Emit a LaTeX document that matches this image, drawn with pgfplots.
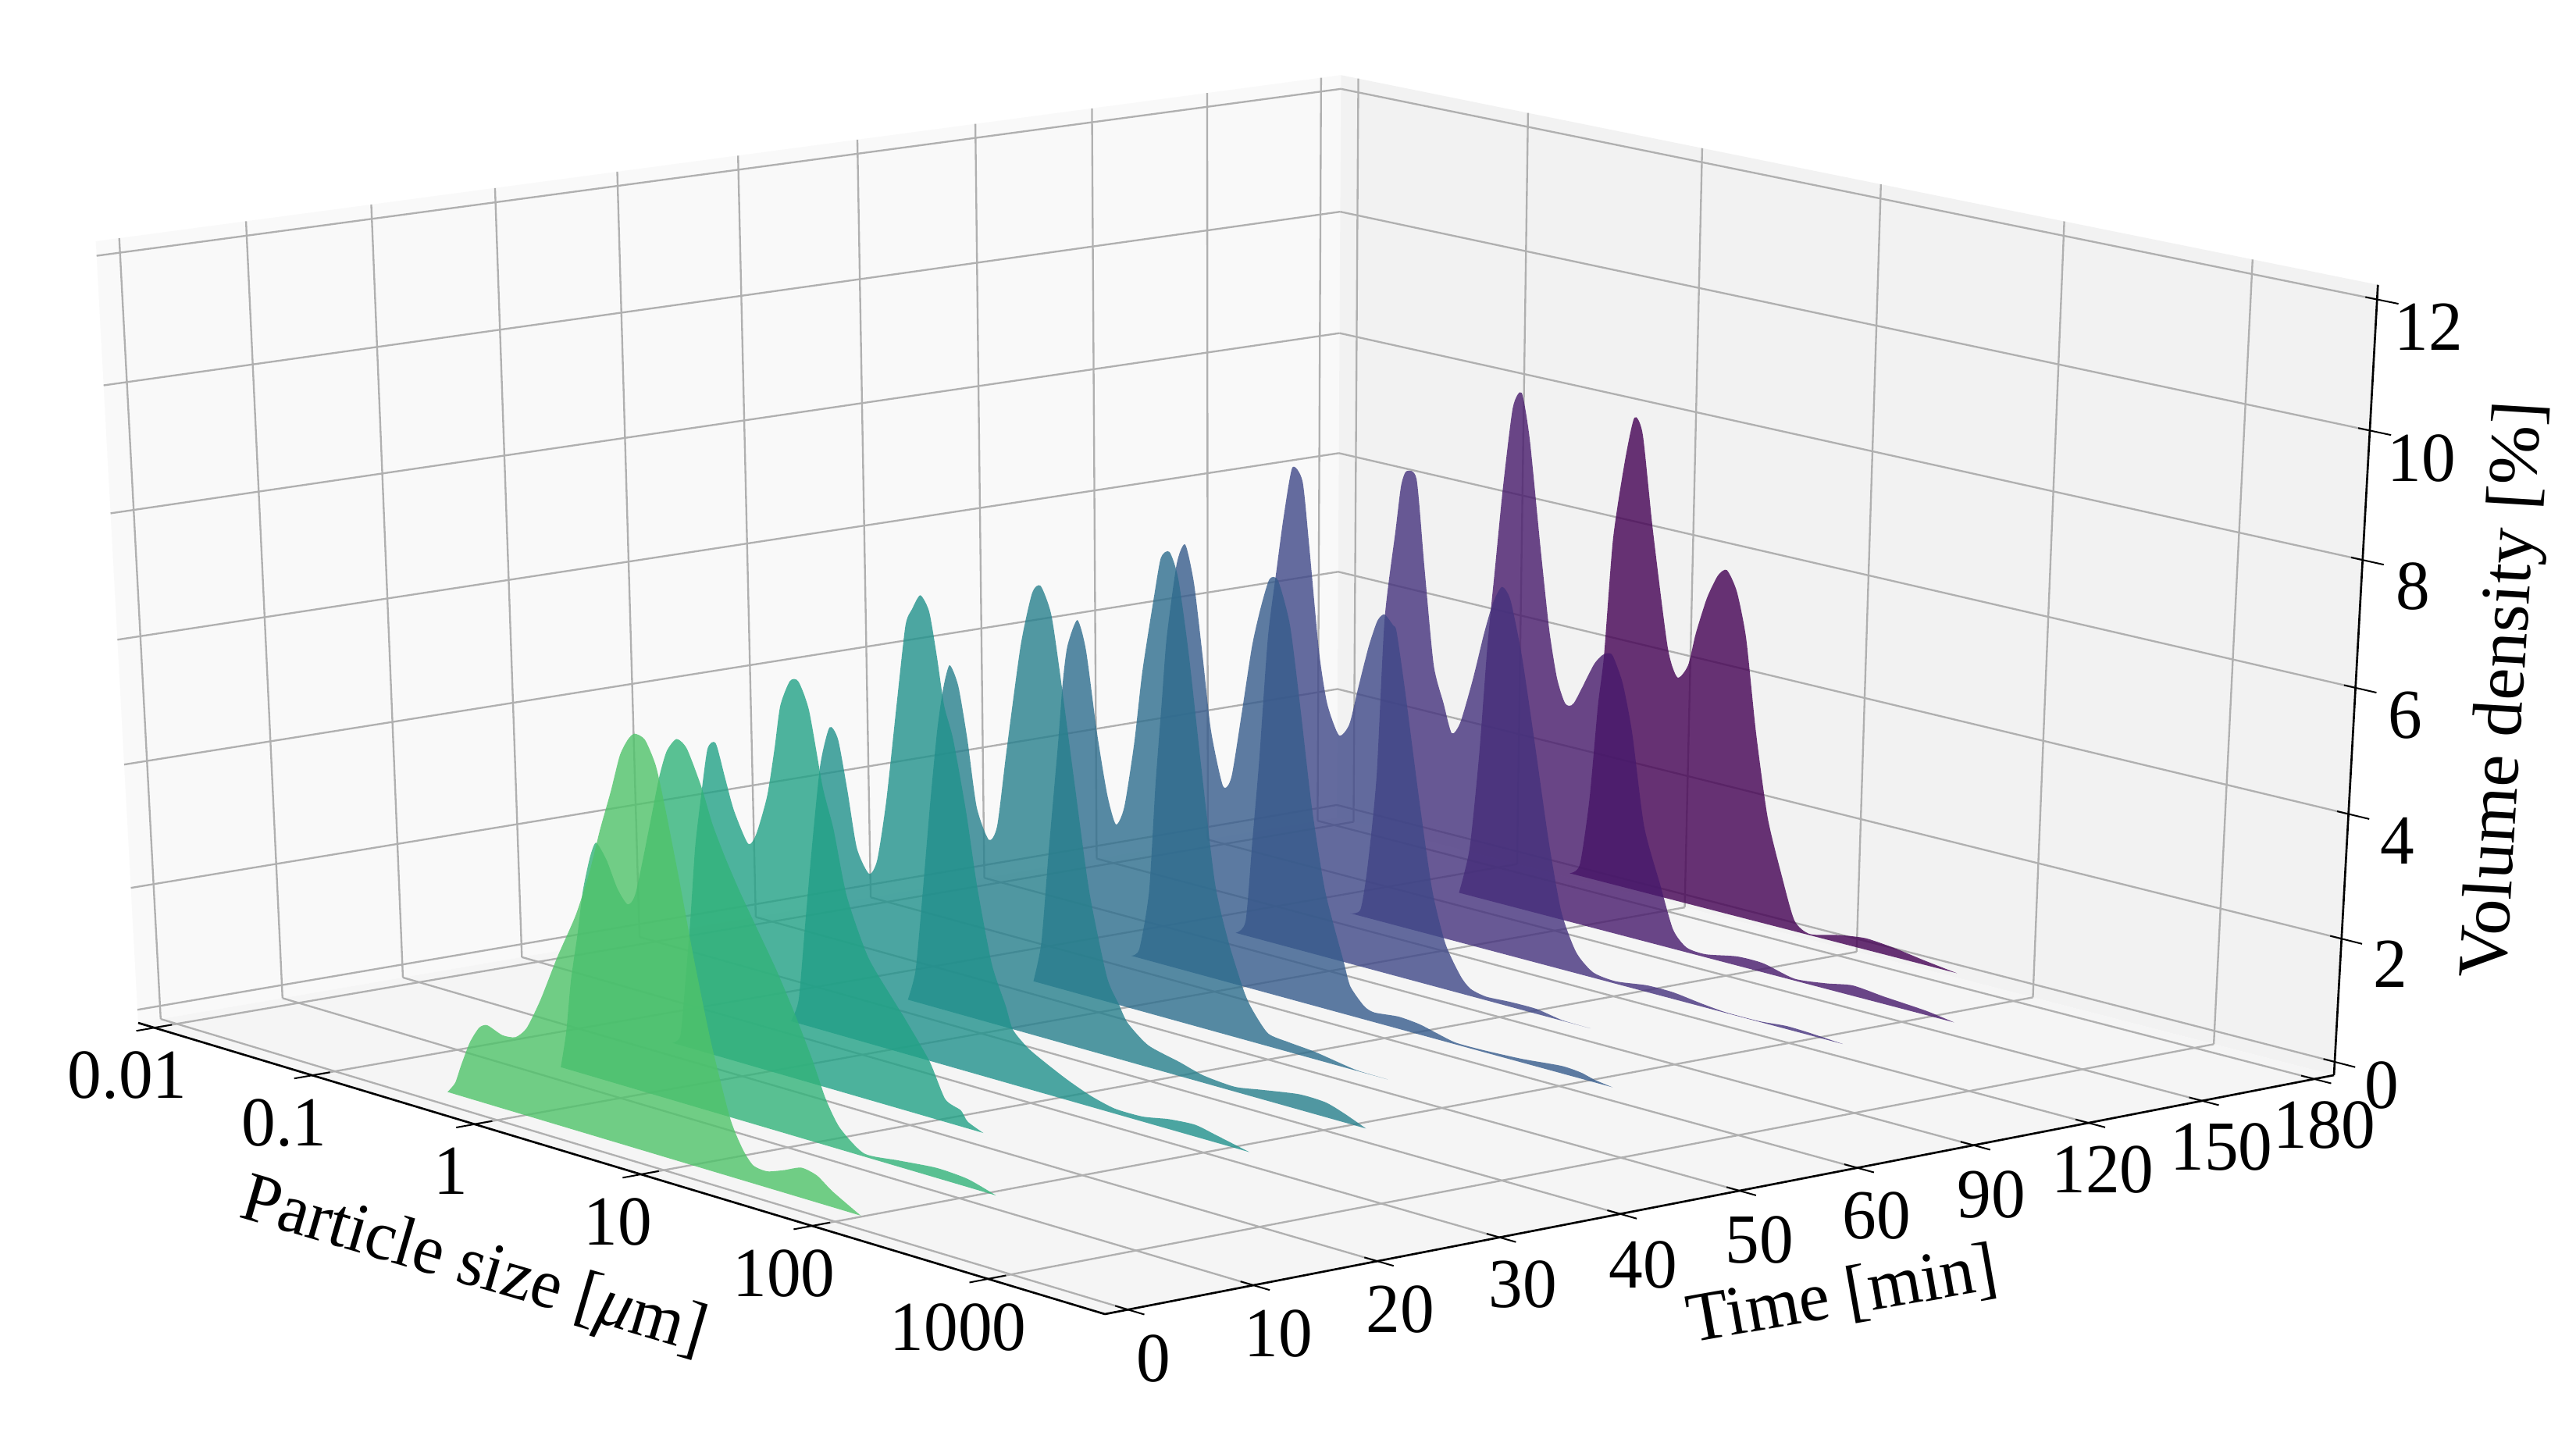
\documentclass[border=0pt]{standalone}
\usepackage{pgfplots}
\usepackage{pgfplotstable}
\usepackage{graphicx}
\usepackage{fontspec}
\setmainfont{Liberation Serif}
\pgfplotsset{compat=1.18}

% log10 of particle size [um], volume density [%]
\pgfplotstableread{
logd vol
-0.30 0
-0.25 0.19
-0.21 0.50
-0.15 0.92
-0.09 1.20
-0.04 1.28
0.05 1.19
0.13 1.22
0.20 1.42
0.29 1.94
0.40 2.70
0.52 3.46
0.61 4.20
0.68 4.91
0.75 5.55
0.81 6.15
0.86 6.43
0.90 6.55
0.96 6.50
1.02 6.14
1.07 5.49
1.14 4.44
1.21 3.32
1.30 2.05
1.40 0.94
1.47 0.50
1.53 0.29
1.61 0.26
1.71 0.36
1.81 0.48
1.90 0.43
1.99 0.25
2.15 0
}\tzero
\pgfplotstableread{
logd vol
-0.36 0
-0.32 0.59
-0.28 1.47
-0.23 2.26
-0.19 2.97
-0.14 3.55
-0.10 3.81
-0.04 3.58
0.02 3.17
0.08 2.96
0.13 3.18
0.22 4.25
0.29 5.12
0.34 5.57
0.40 5.80
0.46 5.69
0.54 5.15
0.60 4.61
0.67 4.14
0.75 3.67
0.86 3.09
0.96 2.56
1.06 1.96
1.16 1.29
1.23 0.75
1.31 0.35
1.45 0.05
1.65 0.10
1.87 0.16
2.05 0.13
2.21 0
}\tten
\pgfplotstableread{
logd vol
-0.42 0
-0.37 0.16
-0.33 1.08
-0.29 2.11
-0.25 3.29
-0.21 4.07
-0.16 4.93
-0.11 5.06
-0.06 4.56
-0.01 4.06
0.07 3.59
0.12 3.78
0.19 4.43
0.24 5.21
0.28 5.92
0.34 6.35
0.39 6.38
0.45 5.96
0.52 4.82
0.58 4.19
0.65 3.19
0.77 2.30
0.93 1.67
0.98 1.48
1.12 0.91
1.21 0.37
1.30 0.26
1.34 0.11
1.43 0
}\ttwenty
\pgfplotstableread{
logd vol
-0.43 0
-0.38 0.39
-0.33 1.67
-0.28 2.94
-0.22 4.31
-0.16 4.96
-0.11 4.80
-0.06 4.01
-0.01 3.13
0.06 2.77
0.11 3.03
0.17 4.02
0.24 5.57
0.30 6.88
0.34 7.17
0.39 7.42
0.44 7.20
0.48 6.55
0.52 5.78
0.57 5.28
0.64 4.19
0.70 3.03
0.78 1.86
0.86 1.24
0.90 0.89
1.00 0.64
1.20 0.35
1.35 0.18
1.49 0.08
1.65 0.08
1.80 0.16
1.95 0.19
2.07 0.12
2.26 0
}\tthirty
\pgfplotstableread{
logd vol
-0.44 0
-0.39 0.53
-0.34 1.86
-0.29 3.27
-0.24 4.53
-0.20 5.24
-0.16 5.64
-0.11 5.34
-0.06 4.52
-0.01 3.47
0.06 2.99
0.11 3.25
0.17 4.49
0.26 6.23
0.33 7.11
0.38 7.26
0.44 6.85
0.49 5.92
0.57 4.23
0.65 2.59
0.75 1.29
0.82 0.89
0.87 0.63
0.99 0.36
1.17 0.23
1.31 0.12
1.49 0.08
1.64 0.15
1.86 0.25
2.01 0.24
2.12 0.14
2.24 0
}\tforty
\pgfplotstableread{
logd vol
-0.39 0
-0.34 0.68
-0.29 2.25
-0.23 4.02
-0.20 5.00
-0.17 5.63
-0.11 6.09
-0.06 5.64
0.00 4.38
0.06 3.40
0.11 2.95
0.16 3.27
0.22 4.34
0.27 5.53
0.34 6.78
0.38 7.41
0.43 7.53
0.48 7.14
0.54 5.98
0.61 4.27
0.69 2.42
0.77 1.52
0.86 0.79
0.91 0.52
1.00 0.21
1.12 0.16
1.27 0.12
1.42 0.05
1.52 0.01
1.69 0
}\tfifty
\pgfplotstableread{
logd vol
-0.50 0
-0.45 0.15
-0.39 1.15
-0.35 2.92
-0.31 4.34
-0.28 5.39
-0.22 6.62
-0.17 6.96
-0.12 6.38
-0.07 5.26
-0.02 4.06
0.05 3.21
0.10 3.39
0.16 4.46
0.22 5.59
0.27 6.24
0.32 6.73
0.37 6.74
0.44 6.08
0.50 4.83
0.57 3.24
0.65 1.93
0.76 0.85
0.80 0.48
0.88 0.22
0.94 0.16
1.08 0.20
1.20 0.17
1.30 0.10
1.41 0.03
1.57 0.03
1.79 0.06
2.01 0.12
2.12 0.10
2.20 0.04
2.30 0
}\tsixty
\pgfplotstableread{
logd vol
-0.56 0
-0.50 0.24
-0.46 1.61
-0.42 2.98
-0.37 5.02
-0.32 6.16
-0.28 7.03
-0.23 7.86
-0.17 7.68
-0.13 6.69
-0.07 5.02
-0.02 4.19
0.05 3.72
0.11 3.94
0.16 4.56
0.22 5.28
0.27 5.73
0.31 5.86
0.36 5.72
0.38 5.63
0.43 4.76
0.52 3.00
0.60 1.59
0.68 0.76
0.77 0.29
0.83 0.12
0.92 0.06
1.06 0.08
1.21 0.08
1.36 0.01
1.52 0
}\tninety
\pgfplotstableread{
logd vol
-0.55 0
-0.49 0.11
-0.45 0.85
-0.40 2.39
-0.36 5.01
-0.30 6.51
-0.27 7.25
-0.24 7.51
-0.18 7.42
-0.13 6.04
-0.07 4.48
-0.01 3.89
0.04 3.43
0.09 3.65
0.16 4.41
0.22 5.18
0.27 5.72
0.32 6.01
0.37 5.83
0.44 4.97
0.52 3.64
0.61 2.08
0.69 0.96
0.78 0.35
0.88 0.09
1.01 0.04
1.19 0.11
1.34 0.11
1.50 0.05
1.64 0.01
1.83 0.01
1.98 0.05
2.11 0.04
2.30 0
}\tonetwenty
\pgfplotstableread{
logd vol
-0.57 0
-0.51 0.79
-0.46 2.40
-0.42 4.22
-0.38 5.58
-0.34 6.92
-0.29 8.22
-0.24 8.49
-0.19 7.78
-0.12 6.11
-0.06 4.76
-0.01 3.99
0.04 3.61
0.09 3.65
0.20 4.35
0.25 4.55
0.28 4.60
0.31 4.58
0.37 4.17
0.43 3.40
0.51 1.91
0.61 1.01
0.69 0.32
0.77 0.08
0.88 0.05
1.06 0.15
1.21 0.15
1.39 0.03
1.57 0.09
1.72 0.17
1.90 0.12
2.13 0.07
2.29 0
}\tonefifty
\pgfplotstableread{
logd vol
-0.57 0
-0.51 0.19
-0.46 1.33
-0.42 2.94
-0.39 3.79
-0.35 5.75
-0.29 7.07
-0.24 7.81
-0.19 7.57
-0.12 6.05
-0.02 4.19
0.04 3.73
0.10 3.97
0.14 4.52
0.20 5.15
0.26 5.56
0.31 5.68
0.37 5.37
0.43 4.64
0.50 3.14
0.58 1.78
0.67 0.87
0.75 0.18
0.84 0.02
1.01 0.13
1.16 0.19
1.32 0.15
1.50 0.07
1.68 0
}\toneeighty

% viridis, 0 to 0.72
\definecolor{c0}{RGB}{79,195,106}
\definecolor{c1}{RGB}{50,179,122}
\definecolor{c2}{RGB}{34,162,134}
\definecolor{c3}{RGB}{33,146,140}
\definecolor{c4}{RGB}{39,128,141}
\definecolor{c5}{RGB}{46,110,142}
\definecolor{c6}{RGB}{54,92,140}
\definecolor{c7}{RGB}{63,72,136}
\definecolor{c8}{RGB}{69,50,125}
\definecolor{c9}{RGB}{71,26,108}
\definecolor{c10}{RGB}{68,1,84}
\definecolor{gridc}{HTML}{B0B0B0}

\pgfkeys{/pgfplots/table/proj/.style={x expr={projx(\thisrow{l},\thisrow{k},\thisrow{z})},y expr={projy(\thisrow{l},\thisrow{k},\thisrow{z})},row sep=\\}}
\newcommand\seg[7]{\addplot[#7] table[proj] {l k z\\#1 #2 #3\\#4 #5 #6\\};}
\newcommand\pane[2]{\addplot[draw=none,fill=#1] table[proj] {l k z\\#2};}
\newcommand\curve[3]{\addplot[draw=none,fill=#3,fill opacity=0.8,smooth,tension=0.4] table[x expr={projx(\thisrow{logd},#1,\thisrow{vol})},y expr={projy(\thisrow{logd},#1,\thisrow{vol})}] {#2};}
\newcommand\lab[1]{\fontsize{27}{27}\selectfont\scalebox{0.97}[1]{#1}}

\begin{document}
\begin{tikzpicture}
\begin{axis}[
    scale only axis,width=989.7pt,height=549.9pt,
    xmin=0,xmax=3299,ymin=0,ymax=1833,y dir=reverse,
    hide axis,clip=false,
    declare function={
      cuba(\sz)=(\sz+2.1036)/5.754;
      cubb(\tm)=0.0177+0.09653*\tm;
      cubc(\vo)=(\vo+0.218)/12.44;
      cubd(\sz,\tm,\vo)=1-0.07447*cuba(\sz)+0.06125*cubb(\tm)-0.0376*cubc(\vo);
      projx(\sz,\tm,\vo)=(1132.6*cuba(\sz)+1639.9*cubb(\tm)-58.9*cubc(\vo)+177)/cubd(\sz,\tm,\vo);
      projy(\sz,\tm,\vo)=(247.7*cuba(\sz)-198.9*cubb(\tm)-1012.6*cubc(\vo)+1310)/cubd(\sz,\tm,\vo);
    },
]
\fill[white] (axis cs:0,0) rectangle (axis cs:3299,1833);
% panes
\pane{black!2.5}{-2.1036 -0.1834 -0.218\\-2.1036 10.176 -0.218\\-2.1036 10.176 12.222\\-2.1036 -0.1834 12.222\\}
\pane{black!5}{-2.1036 10.176 -0.218\\3.6504 10.176 -0.218\\3.6504 10.176 12.222\\-2.1036 10.176 12.222\\}
\pane{black!3.75}{-2.1036 -0.1834 -0.218\\3.6504 -0.1834 -0.218\\3.6504 10.176 -0.218\\-2.1036 10.176 -0.218\\}
% grid
\pgfplotsinvokeforeach{-2,-1,0,1,2,3}{
  \seg{#1}{-0.1834}{-0.218}{#1}{10.176}{-0.218}{gridc,line width=0.7pt}
  \seg{#1}{10.176}{-0.218}{#1}{10.176}{12.222}{gridc,line width=0.7pt}
}
\pgfplotsinvokeforeach{0,...,10}{
  \seg{3.6504}{#1}{-0.218}{-2.1036}{#1}{-0.218}{gridc,line width=0.7pt}
  \seg{-2.1036}{#1}{-0.218}{-2.1036}{#1}{12.222}{gridc,line width=0.7pt}
}
\pgfplotsinvokeforeach{0,2,4,6,8,10,12}{
  \seg{-2.1036}{-0.1834}{#1}{-2.1036}{10.176}{#1}{gridc,line width=0.7pt}
  \seg{-2.1036}{10.176}{#1}{3.6504}{10.176}{#1}{gridc,line width=0.7pt}
}
% axis lines
\seg{-2.1036}{-0.1834}{-0.218}{3.6504}{-0.1834}{-0.218}{black,line width=0.8pt}
\seg{3.6504}{-0.1834}{-0.218}{3.6504}{10.176}{-0.218}{black,line width=0.8pt}
\seg{3.6504}{10.176}{-0.218}{3.6504}{10.176}{12.222}{black,line width=0.8pt}
% ticks
\pgfplotsinvokeforeach{-2,-1,0,1,2,3}{
  \seg{#1}{-0.33}{-0.218}{#1}{-0.04}{-0.218}{black,line width=0.6pt}
}
\pgfplotsinvokeforeach{0,...,10}{
  \seg{3.58}{#1}{-0.218}{3.74}{#1}{-0.218}{black,line width=0.6pt}
}
\pgfplotsinvokeforeach{0,2,4,6,8,10,12}{
  \seg{3.59}{10.176}{#1}{3.76}{10.176}{#1}{black,line width=0.6pt}
}
% curves, back to front
\curve{10}{\toneeighty}{c10}
\curve{9}{\tonefifty}{c9}
\curve{8}{\tonetwenty}{c8}
\curve{7}{\tninety}{c7}
\curve{6}{\tsixty}{c6}
\curve{5}{\tfifty}{c5}
\curve{4}{\tforty}{c4}
\curve{3}{\tthirty}{c3}
\curve{2}{\ttwenty}{c2}
\curve{1}{\tten}{c1}
\curve{0}{\tzero}{c0}
% tick labels
\node[inner sep=0] at (axis cs:163,1377) {\lab{0.01}};
\node[inner sep=0] at (axis cs:364,1438) {\lab{0.1}};
\node[inner sep=0] at (axis cs:577,1500) {\lab{1}};
\node[inner sep=0] at (axis cs:791,1565) {\lab{10}};
\node[inner sep=0] at (axis cs:1004,1631) {\lab{100}};
\node[inner sep=0] at (axis cs:1227,1700) {\lab{1000}};
\node[inner sep=0] at (axis cs:1477,1740) {\lab{0}};
\node[inner sep=0] at (axis cs:1637,1708) {\lab{10}};
\node[inner sep=0] at (axis cs:1793,1677) {\lab{20}};
\node[inner sep=0] at (axis cs:1950,1645) {\lab{30}};
\node[inner sep=0] at (axis cs:2104,1620) {\lab{40}};
\node[inner sep=0] at (axis cs:2253,1588) {\lab{50}};
\node[inner sep=0] at (axis cs:2403,1557) {\lab{60}};
\node[inner sep=0] at (axis cs:2550,1530) {\lab{90}};
\node[inner sep=0] at (axis cs:2693,1498) {\lab{120}};
\node[inner sep=0] at (axis cs:2845,1469) {\lab{150}};
\node[inner sep=0] at (axis cs:2977,1441) {\lab{180}};
\node[inner sep=0] at (axis cs:3050,1390) {\lab{0}};
\node[inner sep=0] at (axis cs:3061,1235) {\lab{2}};
\node[inner sep=0] at (axis cs:3070,1077) {\lab{4}};
\node[inner sep=0] at (axis cs:3080,916) {\lab{6}};
\node[inner sep=0] at (axis cs:3090,751) {\lab{8}};
\node[inner sep=0] at (axis cs:3101,587) {\lab{10}};
\node[inner sep=0] at (axis cs:3110,419) {\lab{12}};
% axis labels
\node[inner sep=0,rotate=-16.4] at (axis cs:606,1625) {\fontsize{27}{27}\selectfont\scalebox{0.97}[1]{Particle size [{\itshape μ}m]}};
\node[inner sep=0,rotate=10] at (axis cs:2360,1660) {\fontsize{27}{27}\selectfont\scalebox{0.98}[1]{Time [min]}};
\node[inner sep=0,rotate=86.5] at (axis cs:3210,884) {\fontsize{27}{27}\selectfont\scalebox{1.03}[1]{Volume density [\%]}};
\end{axis}
\end{tikzpicture}
\end{document}
